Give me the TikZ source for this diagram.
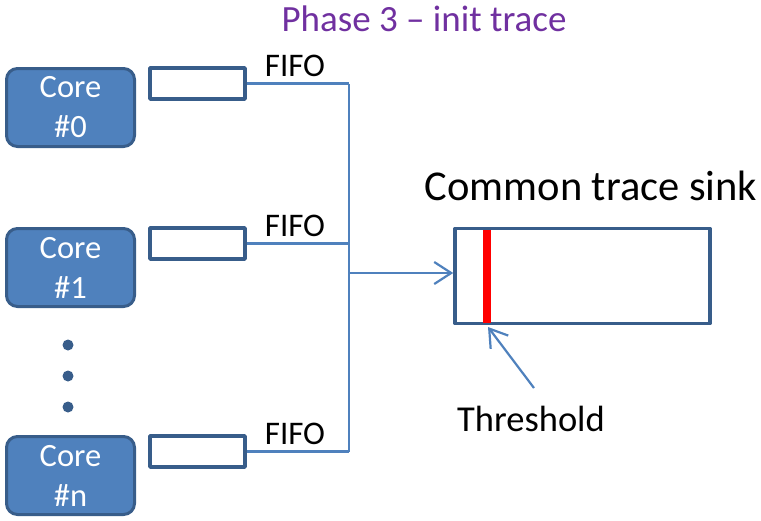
\documentclass[tikz,border=0pt]{standalone}
\usepackage{fontspec}
\setmainfont{Carlito}
\usetikzlibrary{arrows.meta}
\definecolor{coreblue}{HTML}{4F81BD}
\definecolor{darkblue}{HTML}{385D8A}
\definecolor{titlepurple}{HTML}{7030A0}
\tikzset{
  corebox/.style={draw=darkblue, fill=coreblue, line width=3pt, rounded corners=11pt,
    minimum width=128pt, minimum height=78pt, text=white, align=center,
    font=\fontsize{32.5}{40}\selectfont},
  fifobox/.style={draw=darkblue, fill=white, line width=3.5pt, minimum width=95pt, minimum height=31pt},
  link/.style={draw=coreblue, line width=2.2pt},
  lbl/.style={font=\fontsize{33}{38}\selectfont},
}
\begin{document}
\begin{tikzpicture}[x=1pt,y=-1pt, line join=round, >={Straight Barb[length=17pt,width=22pt,line width=2.2pt]}]
\useasboundingbox (0,0) rectangle (761,520);
\def \busx{349};
\def \sinky{273};

\node[text=titlepurple, font=\fontsize{37}{42}\selectfont] (title) at (424,19) {Phase 3 -- init trace};

% cores, their fifos and the bus
\foreach \i/\y in {0/107.5, 1/267.5, n/475.5}{
  \node[corebox] (core\i) at (70.5,\y) {Core\\\#\i};
  \node[fifobox] (fifo\i) at (197.5,\y-24) {};
  \node[lbl, anchor=base] (lab\i) at (295,\y-31) {FIFO};
  \coordinate (bus\i) at (\busx,\y-24);
  \draw[link] (fifo\i.east) -- (bus\i);
}
\draw[link] (bus0) -- (busn);
\foreach \y in {345,376,407}{\fill[darkblue] (68,\y) circle(5.5pt);}

% trace sink
\node[draw=darkblue, line width=3.5pt, minimum width=255pt, minimum height=95pt] (sink) at (582.5,276) {};
\node[font=\fontsize{42.5}{48}\selectfont] (sinklab) at (591,186) {Common trace sink};
\coordinate (busout) at (\busx,\sinky);
\draw[link,->] (busout) -- (sink.west |- busout);
\draw[red, line width=8pt] (487,229.5) -- (487,322.5);
\node[font=\fontsize{36.5}{42}\selectfont] (thr) at (531,419) {Threshold};
\coordinate (thrtip) at (488,327);
\draw[link,->] (534,388) -- (thrtip);
\end{tikzpicture}
\end{document}
